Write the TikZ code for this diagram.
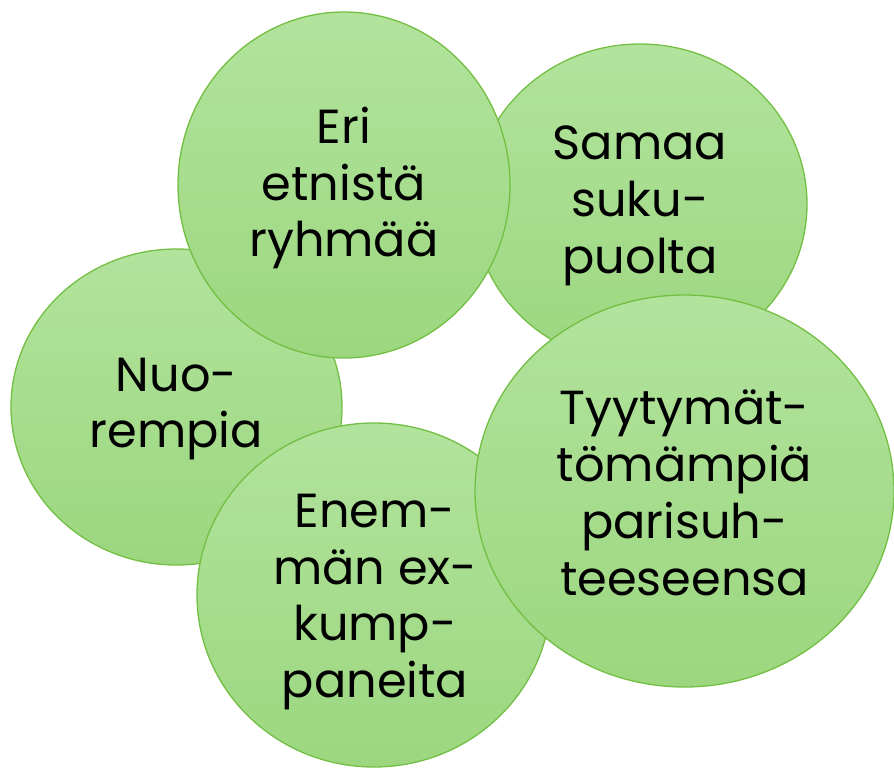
\documentclass[tikz,border=0pt]{standalone}
\usepackage{fontspec}
\setmainfont{Poppins}
\usetikzlibrary{shapes.geometric,calc}
\definecolor{gtop}{HTML}{B2E39D}
\definecolor{gbot}{HTML}{9CD77F}
\definecolor{gline}{HTML}{72BF44}
\tikzset{
  blob/.style={ellipse, draw=gline, line width=1.3bp, top color=gtop, bottom color=gbot, inner sep=0pt},
  txt/.style={align=center, font=\fontsize{48}{57}\selectfont, text=black, inner sep=0pt}
}
\begin{document}
\begin{tikzpicture}[x=1bp,y=-1bp]
\useasboundingbox (0,0) rectangle (894,768);
\node[blob, minimum width=331bp, minimum height=316bp] (nuo) at (176.5,407) {};
\node[txt] (tnuo) at ($(nuo.center)+(0,2)$) {Nuo-\\rempia};
\node[blob, minimum width=334bp, minimum height=320bp] (sam) at (640,204) {};
\node[txt] (tsam) at ($(sam.center)+(0,2)$) {Samaa\\suku-\\puolta};
\node[blob, minimum width=332bp, minimum height=346bp] (eri) at (344,185) {};
\node[txt] (teri) at ($(eri.center)+(0,3)$) {Eri\\etnistä\\ryhmää};
\node[blob, minimum width=354bp, minimum height=344bp] (ene) at (374,595) {};
\node[txt] (tene) at ($(ene.center)+(1,7)$) {Enem-\\män ex-\\kump-\\paneita};
\node[blob, minimum width=419bp, minimum height=392bp] (tyy) at (684.5,491) {};
\node[txt] (ttyy) at ($(tyy.center)+(0,2)$) {Tyytymät-\\tömämpiä\\parisuh-\\teeseensa};
\end{tikzpicture}
\end{document}
